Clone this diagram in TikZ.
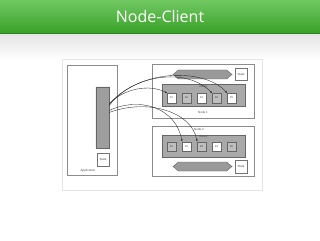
\documentclass[tikz,border=0pt]{standalone}
\usepackage{fontspec}
\setmainfont{Liberation Sans}
\newfontfamily\titlefont{Open Sans}
\usetikzlibrary{positioning,arrows.meta,calc,shapes.symbols}
\definecolor{bargreen}{HTML}{4DBB3B}
\definecolor{bardark}{HTML}{37A026}
\definecolor{partgray}{HTML}{A9A9A9}

\begin{document}
\begin{tikzpicture}[x=1pt,y=-1pt,
  frame/.style={draw=black!45,fill=white,line width=0.4pt},
  tiny/.style={font=\fontsize{3}{3.5}\selectfont,inner sep=0.5pt,text=black!70},
  statebox/.style={draw=black!55,fill=white,minimum width=12pt,minimum height=12.5pt,inner sep=0pt,font=\fontsize{3}{3.5}\selectfont,text=black!70},
  libbox/.style={draw=black!60,fill=partgray,minimum width=83pt,minimum height=22pt,inner sep=0pt},
  pbox/.style={draw=black!60,fill=white,minimum width=8.5pt,minimum height=9.5pt,inner sep=0pt,font=\fontsize{2.6}{3}\selectfont,text=black!75},
  rbox/.style={pbox,fill=black!25},
  ring/.style={signal,signal to=east and west,signal pointer angle=80,draw=black!60,fill=black!40,minimum width=59pt,minimum height=9pt,inner sep=0pt},
  ar/.style={-{Latex[length=2pt,width=1.8pt]},black!85,line width=0.35pt}]
\useasboundingbox (0,0) rectangle (320,240);
% ---- background and title bar ----
\fill[white] (0,0) rectangle (320,240);
\shade[top color=black!10,bottom color=white] (0,35) rectangle (320,60);
\shade[top color=bargreen!80!white,bottom color=bardark] (0,0) rectangle (320,34);
\fill[bardark!80!black] (0,33.4) rectangle (320,34.2);
\node[font=\titlefont\fontsize{16}{18}\selectfont,text=white] (title) at (160,17) {Node-Client};
\draw[black!10,fill=white] (62,59) rectangle (262,190);
% ---- application ----
\draw[frame] (67,65) rectangle (117,175);
\node[tiny,anchor=west] (applab) at (80,171) {Application};
\node[minimum width=13pt,minimum height=61pt,inner sep=0pt] (bus) at (102.5,117.5) {};
\draw[black!60,fill=black!38]
  (bus.north west) .. controls ($(bus.west)+(0.8,0)$) .. (bus.south west)
  -- (bus.south east) .. controls ($(bus.east)+(-0.8,0)$) .. (bus.north east) -- cycle;
\node[statebox] (appstate) at (103,159.5) {State};
% ---- node 1 ----
\draw[frame] (152,64) rectangle (254,118);
\node[tiny] (n1lab) at (203,112) {Node 1};
\node[ring] (ring1) at (202.5,74.5) {};
\node[statebox] (state1) at (241,74) {State};
\node[libbox] (lib1) at (203.5,95.5) {};
\node[tiny,below=0.2pt of lib1.north] (lib1lab) {library};
\node[pbox] (a1) at (171.5,98) {P1};
\node[rbox] (a2) at (186.5,98) {R2};
\node[pbox] (a3) at (201.5,98) {P3};
\node[rbox] (a4) at (216.5,98) {R4};
\node[pbox] (a5) at (231.5,98) {P5};
% ---- node 2 ----
\draw[frame] (152,126) rectangle (254,176);
\node[tiny] (n2lab) at (199,129.5) {Node 2};
\node[libbox] (lib2) at (203.5,146) {};
\node[tiny,below=0.2pt of lib2.north] (lib2lab) {library};
\node[rbox] (b1) at (171.5,146.5) {R1};
\node[pbox] (b2) at (186.5,146.5) {P2};
\node[rbox] (b3) at (201.5,146.5) {R3};
\node[pbox] (b4) at (216.5,146.5) {P4};
\node[rbox] (b5) at (231.5,146.5) {R5};
\node[ring] (ring2) at (202.5,166.5) {};
\node[statebox] (state2) at (241,166.5) {State};
% ---- client connections ----
\draw[ar] ($(bus.east)+(0,-14)$) .. controls (125,88) and (150,84) .. (a1.north west);
\draw[ar] ($(bus.east)+(0,-13)$) .. controls (132,76) and (185,66) .. (a4.north west);
\draw[ar] ($(bus.east)+(0,-12)$) .. controls (138,68) and (205,68) .. (a5.north west);
\draw[ar] ($(bus.east)+(0,-7)$) .. controls (140,96) and (176,108) .. (b2.north west);
\draw[ar] ($(bus.east)+(0,-5)$) .. controls (148,98) and (192,112) .. (b3.north west);
\end{tikzpicture}
\end{document}
